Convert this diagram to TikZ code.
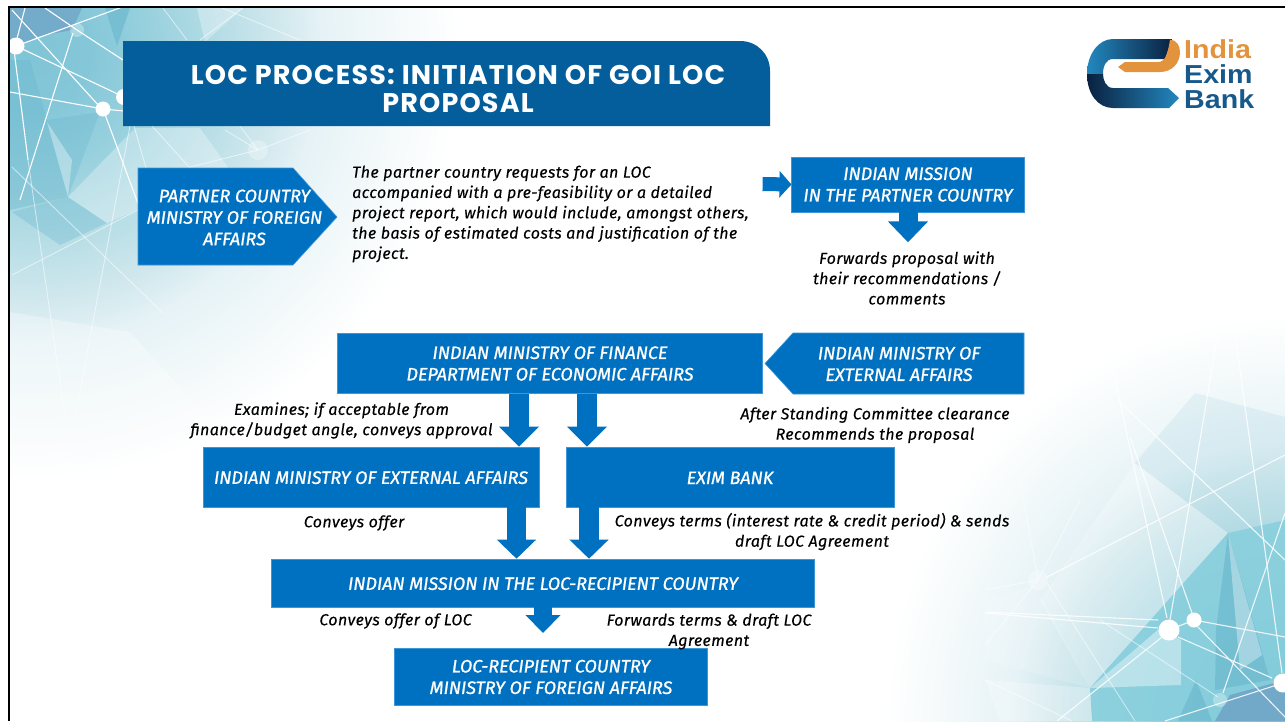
\documentclass[tikz,border=0pt]{standalone}
\usepackage{fontspec}
\setmainfont[LetterSpace=2.5,FakeBold=0.25]{Fira Sans}
\newfontfamily\titlefont[LetterSpace=4.4]{Poppins}
\newfontfamily\logofont{Liberation Sans}
\newfontfamily\boxfont[FakeBold=1]{Fira Sans}
\usetikzlibrary{arrows.meta,calc}
\pgfdeclareradialshading{bgTL}{\pgfpoint{0bp}{0bp}}{
 rgb(0bp)=(0.50,0.77,0.84); rgb(3.5bp)=(0.52,0.78,0.85); rgb(7.2bp)=(0.60,0.82,0.87);
 rgb(14.6bp)=(0.82,0.91,0.93); rgb(17bp)=(0.90,0.95,0.965); rgb(20.8bp)=(0.95,0.975,0.98); rgb(25bp)=(1,1,1); rgb(50bp)=(1,1,1)}
\definecolor{boxblue}{HTML}{0070C0}
\definecolor{boxedge}{HTML}{3E96D8}
\definecolor{titleblue}{HTML}{035E9B}
\definecolor{tealA}{HTML}{6DB9CF}
\definecolor{tealB}{HTML}{86CEDC}
\definecolor{duskblue}{HTML}{6FA3C6}
\definecolor{logoorange}{HTML}{E2933C}
\definecolor{logoblue}{HTML}{17598A}
\definecolor{logonavy}{HTML}{0A2140}
\definecolor{logolight}{HTML}{2388C0}
\tikzset{
 box/.style={fill=boxblue,draw=boxedge,line width=.6pt,inner sep=0pt,text=white,align=center,
   font=\boxfont\itshape\fontsize{18}{21.5}\selectfont,execute at begin node={\rule{0pt}{14pt}}},
 boxshape/.style={fill=boxblue,draw=boxedge,line width=.6pt},
 boxlabel/.style={inner sep=0pt,text=white,align=center,yshift=-.5pt,
   font=\boxfont\itshape\fontsize{18}{21.5}\selectfont},
 note/.style={inner sep=0pt,text=black,align=center,yshift=-1pt,font=\itshape\fontsize{16}{20.3}\selectfont},
 blockarrow/.style={draw=boxblue,line width=#1},
 netline/.style={draw=white,line width=1.1pt},
 netfade/.style={draw=white,line width=.9pt,opacity=.55},
 netdot/.style={fill=white},
 netghost/.style={fill=white,opacity=.3},
 logotext/.style={anchor=base west,inner sep=0pt,font=\logofont\bfseries\fontsize{26}{26}\selectfont,xscale=1.1},
}
\begin{document}
\begin{tikzpicture}[x=1pt,y=-1pt]
\useasboundingbox (0,0) rectangle (1285,721);
\fill[white] (0,0) rectangle (1285,721);
% ---------- background top-left
\begin{scope}
\clip (10,8) rectangle (1285,721);
\shade[shading=bgTL] (30,50) circle (430pt);
\fill[duskblue,opacity=.75] (10,8) -- (82,8) -- (72,30) -- (40,36) -- (10,50) -- cycle;
\fill[tealA,opacity=.7] (105,8) -- (130,8) -- (117,46) -- cycle;
\fill[tealA,opacity=.45] (10,60) -- (30,60) -- (47,120) -- (68,197) -- (10,210) -- cycle;
\fill[tealA,opacity=.35] (47,120) -- (100,112) -- (68,197) -- cycle;
\fill[white,opacity=.35] (47,122) -- (68,197) -- (72,160) -- cycle;
\fill[tealA,opacity=.35] (68,197) -- (107,223) -- (60,245) -- (12,212) -- cycle;
\fill[white,opacity=.3] (197,8) -- (243,8) -- (205,42) -- cycle;
\fill[white,opacity=.3] (68,197) -- (135,128) -- (200,128) -- (230,170) -- (107,223) -- cycle;
\fill[white,opacity=.3] (10,312) -- (130,332) -- (210,420) -- (10,470) -- cycle;
% ---------- background bottom-right
\shade[shading=bgTL] (1285,715) circle (400pt);
\fill[white,opacity=.25] (1135,463) -- (1228,533) -- (1090,688) -- (1040,600) -- cycle;
\fill[tealA,opacity=.12] (1195,393) -- (1285,417) -- (1285,520) -- (1228,533) -- (1135,463) -- cycle;
\fill[tealB,opacity=.85] (1228,533) -- (1285,520) -- (1285,721) -- (1092,721) -- (1090,688) -- cycle;
\fill[white,opacity=.4] (1090,688) -- (1181,685) -- (1181,640) -- (1160,628) -- cycle;
\fill[tealA,opacity=.7] (1228,533) -- (1270,680) -- (1215,690) -- (1216,630) -- cycle;
\fill[white,opacity=.35] (1228,533) -- (1262,655) -- (1240,670) -- cycle;
\fill[tealA,opacity=.7] (1178,721) -- (1196,680) -- (1212,721) -- cycle;
\fill[duskblue,opacity=.85] (1215,721) -- (1230,695) -- (1285,680) -- (1285,721) -- cycle;
\fill[white,opacity=.15] (1090,688) -- (985,660) -- (985,600) -- (1035,585) -- cycle;
\fill[white,opacity=.25] (1090,688) -- (1092,721) -- (1000,721) -- (985,680) -- cycle;
% ---------- network top-left
\foreach \xa/\ya/\xb/\yb in {16/46/125/6,16/46/124/97,10/92/103/109,103/109/124/111,12/10/100/107,
   25/8/14/50,14/50/28/160,45/8/77/30,77/30/123/60,73/33/20/200,103/109/146/225}
  {\draw[netline] (\xa,\ya) -- (\xb,\yb);}
\foreach \xa/\ya/\xb/\yb in {28/160/65/417,130/126/75/417,134/126/146/168,152/126/190/168,163/8/187/40,
   200/40/243/8,222/8/300/40,12/167/163/313,12/275/138/210,258/150/225/130,258/150/310/130,
   258/150/190/167,258/150/240/126}
  {\draw[netfade] (\xa,\ya) -- (\xb,\yb);}
\fill[netdot] (16,46) circle (8.5pt);
\fill[netdot] (103,109) circle (7.5pt);
\fill[netdot] (124,97) circle (8pt);
\fill[netghost] (77,30) circle (7pt);
\fill[netghost] (258,150) circle (10pt);
% ---------- network bottom-right
\foreach \xa/\ya/\xb/\yb in {1169/630/1194/620,1194/620/1285/637,1178/637/1272/678,1198/627/1285/717,
   1162/637/1057/721,1167/618/1102/320,1170/620/1220/320,1192/613/1130/437,1282/673/1233/320,
   1283/683/1165/721,1223/693/1285/513,1118/400/1285/560,1285/455/1047/577,985/612/1158/620,985/613/1158/628}
  {\draw[netline,opacity=.85] (\xa,\ya) -- (\xb,\yb);}
\foreach \xa/\ya/\xb/\yb in {1038/580/985/590,1038/580/985/645,1047/583/1135/721,1218/697/1100/620,985/680/1072/721,
   1038/580/1020/480,1038/580/1080/500}
  {\draw[netfade] (\xa,\ya) -- (\xb,\yb);}
\fill[netdot] (1169,630) circle (10.5pt);
\fill[netdot] (1194,620) circle (7.5pt);
\fill[netdot] (1283,683) circle (9.5pt);
\fill[netghost] (1220,700) circle (7pt);
\fill[netghost] (1038,580) circle (10pt);
\end{scope}
% ---------- frame
\fill[black] (8,5.5) rectangle (1285,7.6);
\fill[black] (8,5.5) rectangle (10,721);
% ---------- title
\fill[titleblue] (123,126) -- (123,41) -- (740,41) .. controls (757,41) and (770,54) .. (770,71) -- (770,126) -- cycle;
\node[inner sep=0pt,text=white,align=center,font=\titlefont\bfseries\fontsize{27}{28}\selectfont] (title) at (458,89)
  {LOC PROCESS: INITIATION OF GOI LOC\\PROPOSAL};
% ---------- logo
\begin{scope}
\clip (1172,39) -- (1113,39) .. controls (1098,39) and (1087,55) .. (1087,74) .. controls (1087,94) and (1098,108) .. (1113,108) -- (1169,108) -- (1179,98) -- (1168,88) -- (1113,88) .. controls (1106,88) and (1103,80) .. (1103,74) .. controls (1103,66) and (1106,59) .. (1113,59) -- (1165,59) -- cycle;
\shade[left color=logolight,right color=logonavy] (1087,39) rectangle (1172,74);
\shade[left color=logonavy,right color=logolight] (1087,74) rectangle (1180,108);
\end{scope}
\fill[logoorange] (1118,67) -- (1125,62) -- (1158,62) .. controls (1166,62) and (1168,52) .. (1170,39.5) .. controls (1176,40) and (1180,45) .. (1180,52) .. controls (1180,63) and (1172,72) .. (1160,72) -- (1125,72) -- cycle;
\node[logotext,text=logoorange] (logoa) at (1184,58.5) {India};
\node[logotext,text=logoblue] (logob) at (1184,83.5) {Exim};
\node[logotext,text=logoblue] (logoc) at (1184,108.5) {Bank};
% ---------- boxes
\fill[boxshape] (138,168) -- (293,168) -- (337,217) -- (293,265) -- (138,265) -- cycle;
\node[boxlabel] (partner) at (234.5,217) {PARTNER COUNTRY\\MINISTRY OF FOREIGN\\AFFAIRS};
\node[note,align=left,anchor=west] (request) at (352,213) {The partner country requests for an LOC\\accompanied with a pre-feasibility or a detailed\\project report, which would include, amongst others,\\the basis of estimated costs and justification of the\\project.};
\node[box,minimum width=232.5pt,minimum height=55pt] (mission) at (908,184.5) {INDIAN MISSION\\IN THE PARTNER COUNTRY};
\node[note] (forwards) at (907,277) {Forwards proposal with\\their recommendations /\\comments};
\node[box,minimum width=425pt,minimum height=60.5pt] (finance) at (550,363.5) {INDIAN MINISTRY OF FINANCE\\DEPARTMENT OF ECONOMIC AFFAIRS};
\fill[boxshape] (1024,333) -- (793,333) -- (765,363.5) -- (793,394) -- (1024,394) -- cycle;
\node[boxlabel] (mea) at (899,363.5) {INDIAN MINISTRY OF\\EXTERNAL AFFAIRS};
\node[box,minimum width=336pt,minimum height=60pt] (meb) at (371,477) {INDIAN MINISTRY OF EXTERNAL AFFAIRS};
\node[box,minimum width=328pt,minimum height=60pt] (exim) at (730,477) {EXIM BANK};
\node[box,minimum width=543pt,minimum height=48pt] (recipient) at (543,583) {INDIAN MISSION IN THE LOC-RECIPIENT COUNTRY};
\node[box,minimum width=313pt,minimum height=57pt] (foreign) at (551,677) {LOC-RECIPIENT COUNTRY\\MINISTRY OF FOREIGN AFFAIRS};
% ---------- notes
\node[note] (examines) at (341.5,419.5) {Examines; if acceptable from\\finance/budget angle, conveys approval};
\node[note] (standing) at (875,424) {After Standing Committee clearance\\Recommends the proposal};
\node[note] (offer) at (354,522) {Conveys offer};
\node[note] (terms) at (812,530.5) {Conveys terms (interest rate \& credit period) \& sends\\draft LOC Agreement};
\node[note] (offerloc) at (395.5,620) {Conveys offer of LOC};
\node[note] (fwdterms) at (709,630.5) {Forwards terms \& draft LOC\\Agreement};
% ---------- block arrows
\coordinate (a0) at (762.6,184);
\draw[blockarrow=14pt,-{Triangle[length=12pt,width=26pt]}] (a0) -- (mission.west);
\draw[blockarrow=19pt,-{Triangle[length=21pt,width=39pt]}] (mission.south) -- ++(0,30);
\coordinate (ax1) at (519,0);\coordinate (ax2) at (587,0);\coordinate (ax3) at (516.5,0);\coordinate (ax4) at (589,0);
\draw[blockarrow=19.5pt,-{Triangle[length=20pt,width=38.5pt]}] (finance.south -| ax1) -- (meb.north -| ax1);
\draw[blockarrow=19.5pt,-{Triangle[length=20pt,width=38.5pt]}] (finance.south -| ax2) -- (exim.north -| ax2);
\draw[blockarrow=19.5pt,-{Triangle[length=19pt,width=38pt]}] (meb.south -| ax3) -- (recipient.north -| ax3);
\draw[blockarrow=19.5pt,-{Triangle[length=19pt,width=38pt]}] (exim.south -| ax4) -- (recipient.north -| ax4);
\draw[blockarrow=17.5pt,-{Triangle[length=18pt,width=34pt]}] (recipient.south) -- ++(0,25.7);
\end{tikzpicture}
\end{document}
